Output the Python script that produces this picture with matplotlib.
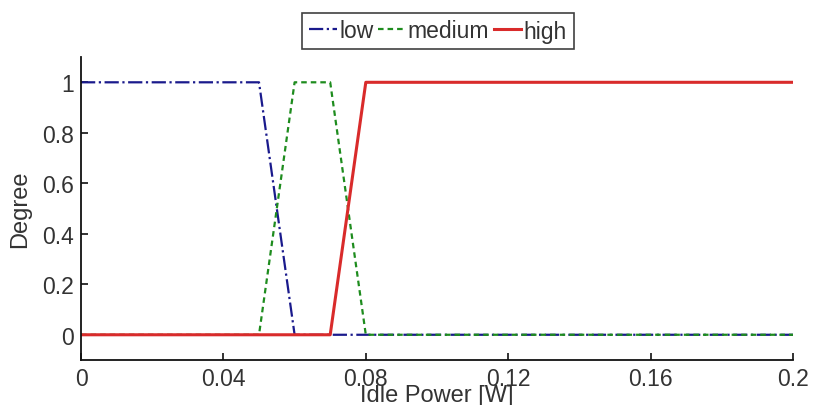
import matplotlib
matplotlib.use("Agg")
import matplotlib.pyplot as plt

plt.rcParams['font.family'] = ['Liberation Sans', 'DejaVu Sans']

# Membership functions for idle power (breakpoints in W, degree values)
low_x = [0.0, 0.05, 0.06, 0.2]
low_y = [1.0, 1.0, 0.0, 0.0]
medium_x = [0.0, 0.05, 0.06, 0.07, 0.08, 0.2]
medium_y = [0.0, 0.0, 1.0, 1.0, 0.0, 0.0]
high_x = [0.0, 0.07, 0.08, 0.2]
high_y = [0.0, 0.0, 1.0, 1.0]

x_ticks = [0, 0.04, 0.08, 0.12, 0.16, 0.2]
x_tick_labels = ["0", "0.04", "0.08", "0.12", "0.16", "0.2"]
y_ticks = [0, 0.2, 0.4, 0.6, 0.8, 1]
y_tick_labels = ["0", "0.2", "0.4", "0.6", "0.8", "1"]

fig = plt.figure(figsize=(8.15, 4.06), dpi=100)
ax = fig.add_axes([0.0994, 0.1108, 0.8736, 0.7462])

ax.plot(low_x, low_y, linestyle='-.', color='#1a1a8c', lw=1.6, label='low')
ax.plot(medium_x, medium_y, linestyle=(0, (2.5, 1.8)), color='#1e8c1e', lw=1.6, label='medium')
ax.plot(high_x, high_y, linestyle='-', color='#d92b2b', lw=2.2, label='high')

ax.set_xlim(0, 0.2)
ax.set_ylim(-0.1, 1.1)
ax.set_xticks(x_ticks)
ax.set_xticklabels(x_tick_labels)
ax.set_yticks(y_ticks)
ax.set_yticklabels(y_tick_labels)

for side in ('top', 'right'):
    ax.spines[side].set_visible(False)
for side in ('left', 'bottom'):
    ax.spines[side].set_linewidth(1.3)
    ax.spines[side].set_color('#111111')

ax.tick_params(direction='in', length=5, width=1.2, labelsize=16.5,
               colors='#111111', labelcolor='#333333', pad=5)

ax.set_xlabel('Idle Power [W]', fontsize=17, color='#333333', labelpad=-4)
ax.set_ylabel('Degree', fontsize=17, color='#333333', labelpad=8)

leg = fig.legend(loc='center', bbox_to_anchor=(438 / 815, 1 - 32 / 406), ncol=3,
                 frameon=True, fancybox=False, edgecolor='#111111', fontsize=16.5,
                 handlelength=1.2, handletextpad=0.1, columnspacing=0.2,
                 borderpad=0.3, borderaxespad=0)
leg.get_frame().set_linewidth(1.2)
for t in leg.get_texts():
    t.set_color('#333333')

fig.savefig('out.png', dpi=100)
